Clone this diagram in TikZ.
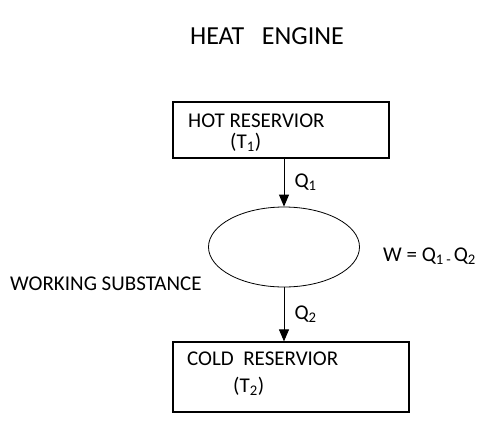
\documentclass[tikz,border=0pt]{standalone}
\usepackage{fontspec}
\setmainfont{Carlito}
\usetikzlibrary{arrows.meta,shapes.geometric}

\tikzset{
  reservoir/.style={draw, line width=1.2pt, minimum width=#1, inner sep=0pt},
  label/.style={font=\fontsize{21}{25}\selectfont, inner sep=0pt},
  flow/.style={line width=1pt, -{Triangle[width=10pt,length=12pt]}}
}

\begin{document}
\begin{tikzpicture}[x=1pt,y=-1pt]
  \useasboundingbox (0,0) rectangle (495,445);

  \node[font=\fontsize{26}{30}\selectfont, inner sep=0pt] (title) at (267,36) {HEAT\ \ \ ENGINE};

  \node[reservoir=216pt, minimum height=56pt] (hot) at (281,130) {};
  \node[label, anchor=base west] (hotname) at (188,127) {HOT RESERVIOR};
  \node[label, anchor=base west] (hottemp) at (230,148) {(T\textsubscript{1})};

  \node[draw, ellipse, line width=0.8pt, minimum width=151pt, minimum height=80pt, inner sep=0pt] (ws) at (284,247) {};
  \node[label, anchor=west] (wsname) at (10,284) {WORKING SUBSTANCE};
  \node[label, anchor=west] (work) at (383,256) {W = Q\textsubscript{1}\textsubscript{\,-\,}Q\textsubscript{2}};

  \node[reservoir=236pt, minimum height=70pt] (cold) at (291,377) {};
  \node[label, anchor=base west] (coldname) at (187,365) {COLD\ \ RESERVIOR};
  \node[label, anchor=base west] (coldtemp) at (233,392) {(T\textsubscript{2})};

  \draw[flow] (hot.south -| ws.north) -- (ws.north)
    node[label, midway, right=10pt] (q1) {Q\textsubscript{1}};
  \draw[flow] (ws.south) -- (cold.north -| ws.south)
    node[label, midway, right=10pt] (q2) {Q\textsubscript{2}};
\end{tikzpicture}
\end{document}
